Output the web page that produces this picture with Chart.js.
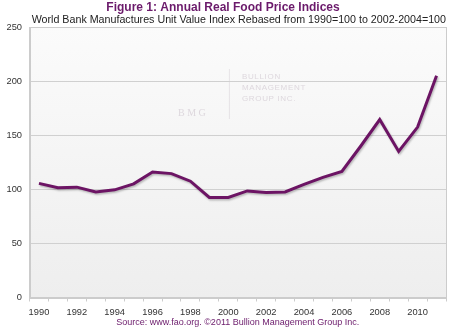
<!DOCTYPE html>
<html>
<head>
<meta charset="utf-8">
<script src="https://cdn.jsdelivr.net/npm/chart.js@4"></script>
<style>
html,body{margin:0;padding:0;background:#fff;}
#wrap{width:450px;height:329px;position:relative;}
</style>
</head>
<body>
<div id="wrap"><canvas id="c" width="450" height="329"></canvas></div>
<script>
const years = ['1990','1991','1992','1993','1994','1995','1996','1997','1998','1999','2000','2001','2002','2003','2004','2005','2006','2007','2008','2009','2010','2011'];
const foodIndex = [105.5,101.5,102,97.5,99.5,105,116,114.5,107.5,92.5,92.5,98.5,97,97.5,104.5,111,116.5,140,164.5,135,157.5,205];
const yTicks = [0,50,100,150,200,250];
const titleText = 'Figure 1: Annual Real Food Price Indices';
const subtitleText = 'World Bank Manufactures Unit Value Index Rebased from 1990=100 to 2002-2004=100';
const sourceText = 'Source: www.fao.org. \u00a92011 Bullion Management Group Inc.';
const watermarkLines = ['BULLION','MANAGEMENT','GROUP INC.'];
const watermarkMark = 'B M G';

const FONT = "Arial, 'Liberation Sans', sans-serif";

const plotBg = {
  id: 'plotBg',
  beforeDraw(chart) {
    const {ctx, chartArea: a} = chart;
    ctx.save();
    const g = ctx.createLinearGradient(0, a.top, 0, a.bottom);
    g.addColorStop(0, '#fbfbfb');
    g.addColorStop(1, '#eeeeee');
    ctx.fillStyle = g;
    ctx.fillRect(a.left, a.top, a.right - a.left, a.bottom - a.top);
    // watermark
    ctx.fillStyle = 'rgba(200,190,200,0.55)';
    ctx.font = "8px " + FONT;
    ctx.textBaseline = 'middle';
    ctx.textAlign = 'left';
    const wx = a.left + (a.right - a.left) * 0.51;
    watermarkLines.forEach((t, i) => {
      ctx.fillText(t.split('').join(String.fromCharCode(8202)), wx, a.top + 50 + i * 11);
    });
    ctx.font = "10px 'Liberation Serif', serif";
    ctx.textAlign = 'center';
    ctx.fillText(watermarkMark, wx - 50, a.top + 86);
    ctx.strokeStyle = 'rgba(200,190,200,0.35)';
    ctx.lineWidth = 1;
    ctx.beginPath();
    ctx.moveTo(wx - 12.5, a.top + 42);
    ctx.lineTo(wx - 12.5, a.top + 92);
    ctx.stroke();
    ctx.restore();
  },
  afterDraw(chart) {
    const {ctx, chartArea: a} = chart;
    ctx.save();
    ctx.strokeStyle = '#cccccc';
    ctx.lineWidth = 1;
    ctx.strokeRect(Math.round(a.left) + 0.5, Math.round(a.top) + 0.5, Math.round(a.right - a.left) - 1, Math.round(a.bottom - a.top));
    ctx.restore();
  }
};

const lineShadow = {
  id: 'lineShadow',
  beforeDatasetDraw(chart) {
    const ctx = chart.ctx;
    ctx.save();
    ctx.shadowColor = 'rgba(0,0,0,0.25)';
    ctx.shadowBlur = 2;
    ctx.shadowOffsetX = 1;
    ctx.shadowOffsetY = 1.5;
  },
  afterDatasetDraw(chart) {
    chart.ctx.restore();
  }
};

new Chart(document.getElementById('c'), {
  type: 'line',
  data: {
    labels: years,
    datasets: [{
      data: foodIndex,
      borderColor: '#6c1464',
      borderWidth: 3,
      pointRadius: 0,
      tension: 0,
      fill: false,
      borderJoinStyle: 'miter'
    }]
  },
  options: {
    responsive: false,
    animation: false,
    devicePixelRatio: 1,
    layout: { padding: { top: 2, right: 4, left: 0, bottom: 0 } },
    plugins: {
      legend: { display: false },
      tooltip: { enabled: false },
      title: {
        display: true,
        text: titleText,
        color: '#6b1a6b',
        font: { family: FONT, size: 12, weight: 'bold', lineHeight: 1 },
        padding: { top: 0, bottom: 0 }
      },
      subtitle: {
        display: true,
        text: subtitleText,
        align: 'end',
        color: '#222222',
        font: { family: FONT, size: 10.7, lineHeight: 1 },
        padding: { top: 1, bottom: 1.3 }
      }
    },
    scales: {
      x: {
        type: 'category',
        offset: true,
        afterFit(scale) { scale.height = 31.5; },
        grid: {
          offset: true,
          drawOnChartArea: false,
          drawTicks: true,
          tickLength: 4,
          color: '#cccccc'
        },
        border: { display: true, color: '#cccccc' },
        ticks: {
          autoSkip: false,
          maxRotation: 0,
          padding: 6.5,
          color: '#333333',
          font: { family: FONT, size: 9.3, lineHeight: 1 },
          callback: function(v, i) { return i % 2 === 0 ? years[i] : ''; }
        },
        title: {
          display: true,
          text: sourceText,
          color: '#6b1a6b',
          font: { family: FONT, size: 9, lineHeight: 1 },
          padding: { top: 0, bottom: 1.5 }
        }
      },
      y: {
        min: 0,
        max: 250,
        afterFit(scale) { scale.width = 29.5; },
        afterBuildTicks(scale) { scale.ticks = yTicks.map(v => ({ value: v })); },
        grid: {
          drawTicks: false,
          color: '#d0d0d0',
          lineWidth: 1
        },
        border: { display: true, color: '#cccccc' },
        ticks: {
          padding: 7.5,
          color: '#333333',
          font: { family: FONT, size: 9.3 }
        }
      }
    }
  },
  plugins: [plotBg, lineShadow]
});
</script>
</body>
</html>
